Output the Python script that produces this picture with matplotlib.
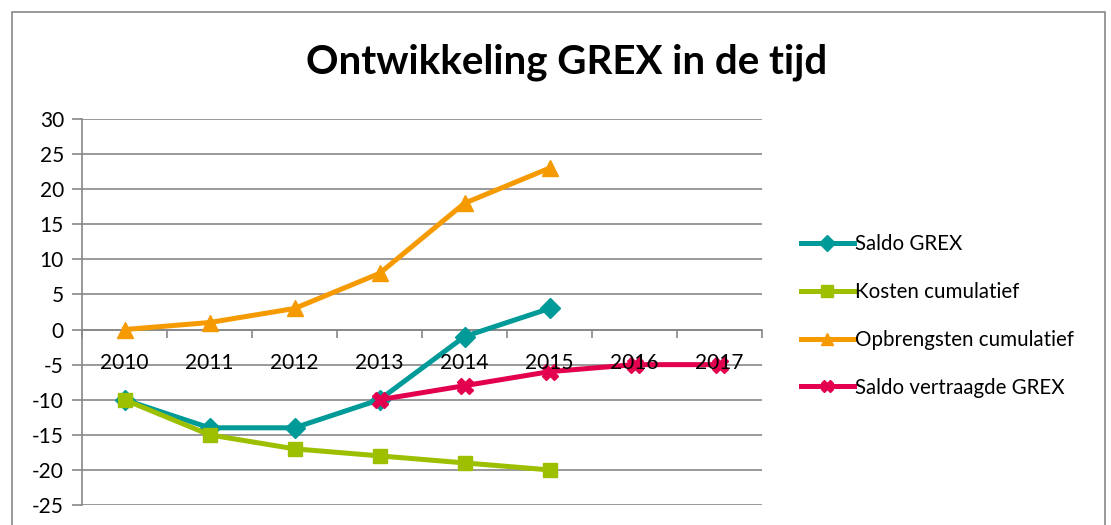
import matplotlib.pyplot as plt
import numpy as np
from matplotlib.patches import Rectangle
from matplotlib.ticker import FixedLocator

plt.rcParams['font.family'] = ['Lato', 'DejaVu Sans']
plt.rcParams['axes.unicode_minus'] = False

years = ['2010', '2011', '2012', '2013', '2014', '2015', '2016', '2017']
saldo_grex = [-10, -14, -14, -10, -1, 3]
kosten_cum = [-10, -15, -17, -18, -19, -20]
opbrengsten_cum = [0, 1, 3, 8, 18, 23]
saldo_vertraagd = [-10, -8, -6, -5, -5]  # vanaf 2013

fig = plt.figure(figsize=(11.11, 5.25), dpi=100)
ax = fig.add_axes([82/1111, 1-505/525, 680/1111, 386/525])

# rand om het hele diagram
fig.patches.append(Rectangle((12/1111, -0.1), 1093/1111, 1.1 - 12/525, transform=fig.transFigure,
                             fill=False, edgecolor='#888888', linewidth=1.2))

x = np.arange(len(years))
lw = 3.6
ax.plot(x[:6], saldo_grex, color='#009a98', lw=lw, marker='D', ms=10, label='Saldo GREX', zorder=3)
ax.plot(x[:6], kosten_cum, color='#9cbf00', lw=lw, marker='s', ms=10, label='Kosten cumulatief', zorder=3)
ax.plot(x[:6], opbrengsten_cum, color='#f59a00', lw=lw, marker='^', ms=11, label='Opbrengsten cumulatief', zorder=3)
ax.plot(x[3:], saldo_vertraagd, color='#e2004f', lw=lw, marker='X', ms=11, label='Saldo vertraagde GREX', zorder=3)

ax.set_xlim(-0.5, 7.5)
ax.set_ylim(-25, 30)
ax.set_yticks(range(-25, 31, 5))
ax.yaxis.grid(True, color='#888888', linewidth=1.2)
ax.set_axisbelow(True)

for s in ['top', 'right']:
    ax.spines[s].set_visible(False)
ax.spines['bottom'].set_position(('data', 0))
for s in ['left', 'bottom']:
    ax.spines[s].set_color('#888888')
    ax.spines[s].set_linewidth(1.2)

ax.xaxis.set_major_locator(FixedLocator(np.arange(-0.5, 8, 1)))
ax.xaxis.set_major_formatter(plt.NullFormatter())
ax.tick_params(axis='x', which='major', direction='out', length=6, color='#888888', width=1.2)
ax.tick_params(axis='y', direction='out', length=7, color='#888888', width=1.2, labelsize=15, pad=6)

# jaartallen boven de lijnen tekenen
for xi, yr in zip(x, years):
    ax.annotate(yr, xy=(xi, 0), xytext=(0, -24), textcoords='offset points',
                ha='center', va='center', fontsize=15, zorder=5)

fig.text(567/1111, 1-62/525, 'Ontwikkeling GREX in de tijd', ha='center', va='center',
         fontsize=29, fontweight='bold')

fig.legend(loc='center left', bbox_to_anchor=(782/1111, 1-316/525), frameon=False,
           fontsize=14.8, handlelength=2.6, handletextpad=0.05, labelspacing=1.35, markerscale=0.8)

fig.savefig('out.png', dpi=100)
